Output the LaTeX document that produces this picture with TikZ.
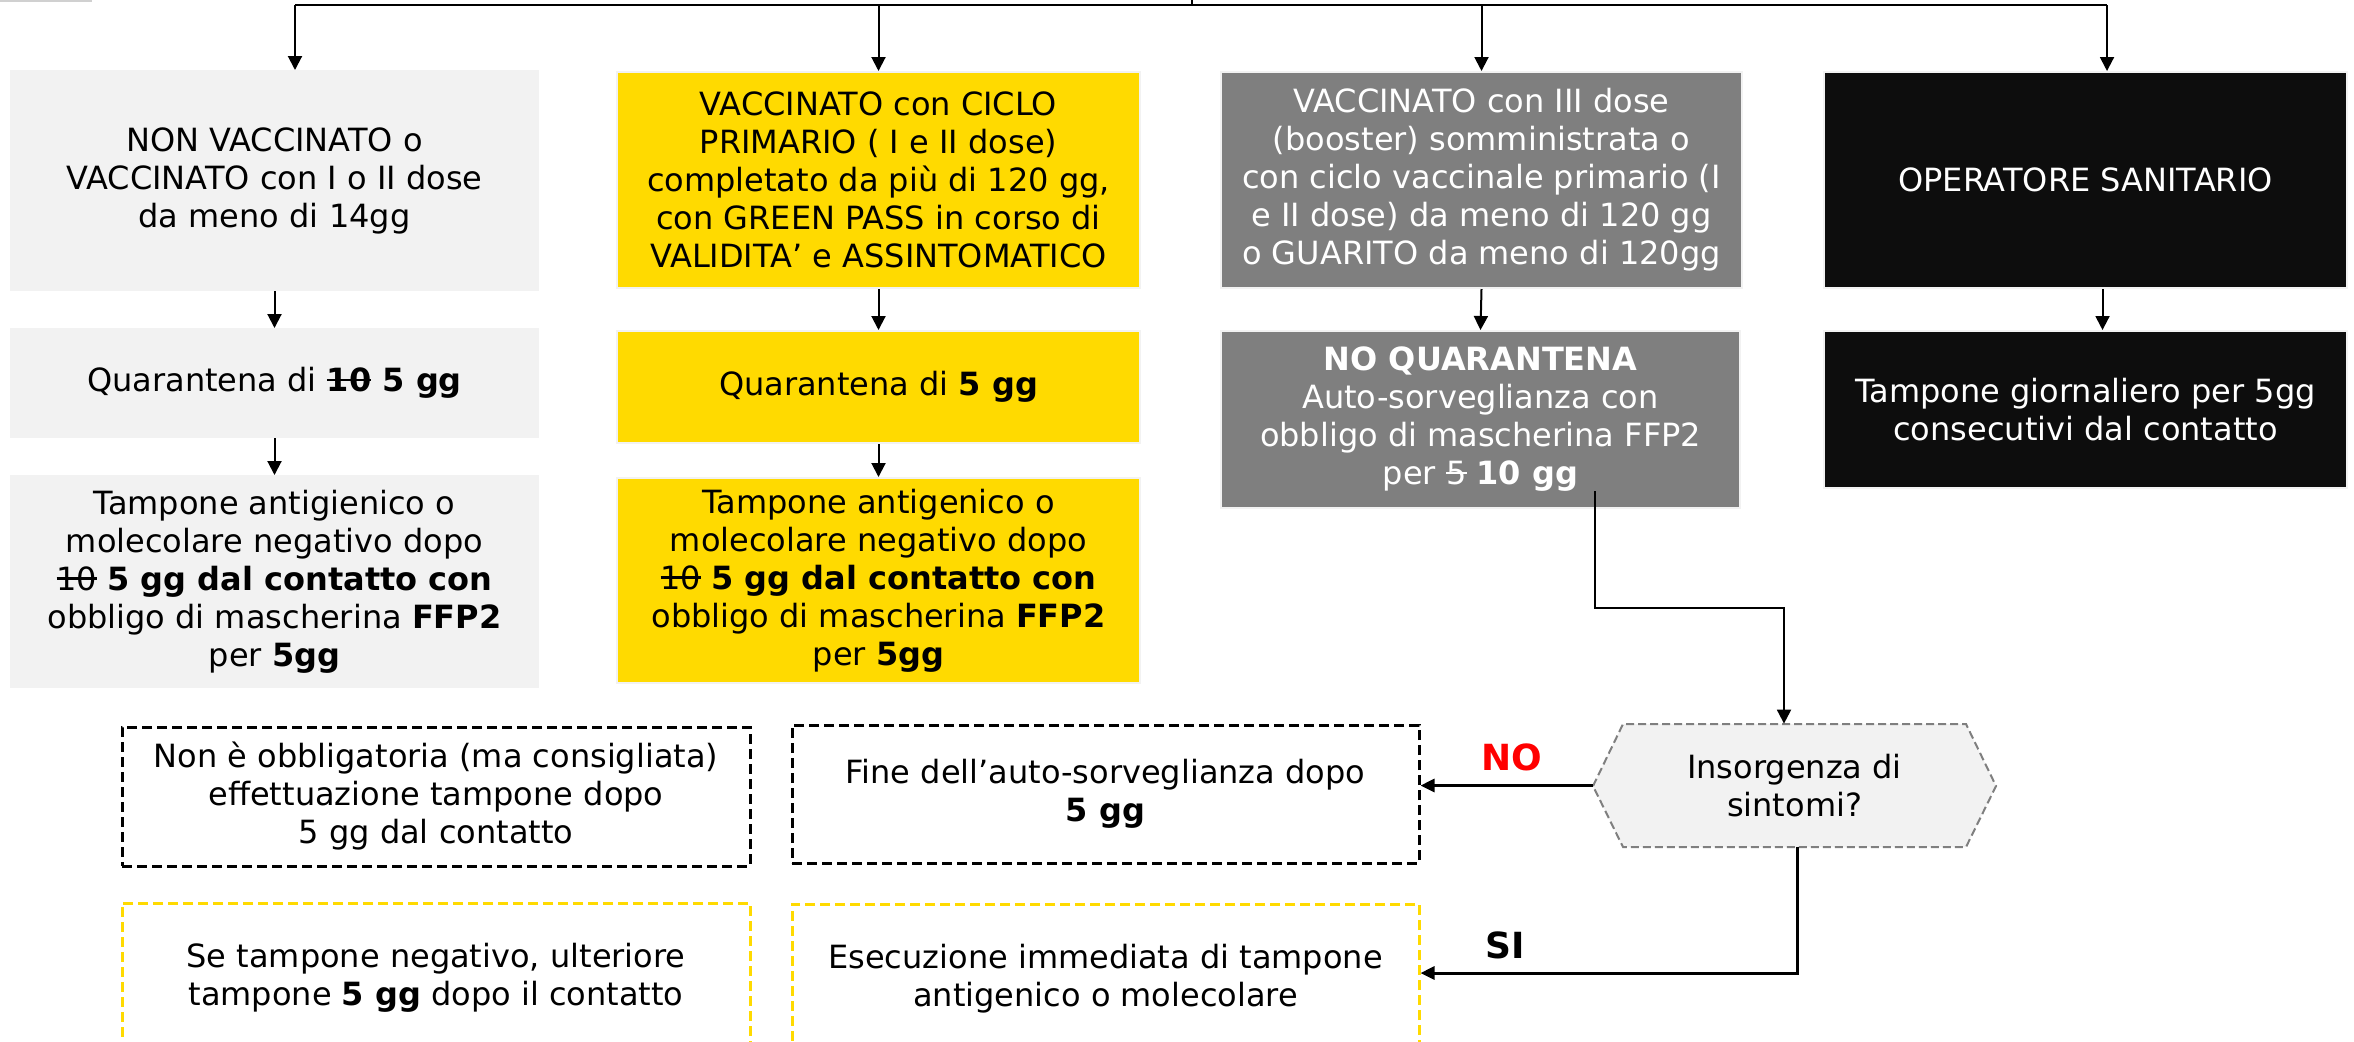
\documentclass[tikz,border=0pt]{standalone}
\usepackage{fontspec}
\setmainfont{DejaVu Sans}
\usetikzlibrary{arrows.meta}
\definecolor{lgrey}{HTML}{F2F2F2}
\definecolor{yel}{HTML}{FFDA00}
\definecolor{mgrey}{HTML}{7F7F7F}
\definecolor{blk}{HTML}{0D0D0D}
\definecolor{hexline}{HTML}{7F7F7F}
\definecolor{nored}{HTML}{FF0000}
\newcommand\strk[1]{\leavevmode{\setbox0\hbox{#1}\rlap{\rule[0.33em]{\wd0}{0.07em}}\box0}}
\begin{document}
\begin{tikzpicture}[x=0.5pt,y=-0.5pt,
  rect/.style n args={4}{at={({(#1+#3)/2},{(#2+#4)/2})}, minimum width={(#3-#1)*0.5pt}, minimum height={(#4-#2)*0.5pt}},
  txt/.style={font=\fontsize{16}{19}\selectfont, align=center},
  card/.style={txt, inner sep=0pt, line width=1pt, draw=lgrey},
  lightcard/.style={card, fill=lgrey},
  yelcard/.style={card, fill=yel},
  greycard/.style={card, fill=mgrey, text=white},
  blackcard/.style={card, fill=blk, text=white},
  blkdash/.style={txt, inner sep=0pt, draw=black, line width=1.5pt, dash pattern=on 5pt off 2.5pt},
  yeldash/.style={txt, inner sep=0pt, draw=yel, line width=1.5pt, dash pattern=on 5pt off 2.5pt},
  arr/.style={-{Triangle[width=7pt,length=7pt]}, line width=1pt},
  thickarr/.style={-{Triangle[width=6.5pt,length=7pt]}, line width=1.5pt},
  lbl/.style={font=\fontsize{18}{21}\selectfont\bfseries, inner sep=0pt}]
\useasboundingbox (0,0) rectangle (2354,1041);
\clip (0,0) rectangle (2354,1041);

% remnant of an element cut off at the top
\draw[lgrey!70!gray, line width=1.5pt] (0,0) -- (92,0);

% row 1
\node[lightcard, rect={11}{71}{538}{290}] (b1) {NON VACCINATO o\\VACCINATO con I o II dose\\da meno di 14gg};
\node[yelcard, rect={617}{72}{1140}{288}] (b2) {VACCINATO con CICLO\\PRIMARIO ( I e II dose)\\completato da più di 120 gg,\\con GREEN PASS in corso di\\VALIDITA’ e ASSINTOMATICO};
\node[greycard, rect={1221}{72}{1742}{288}] (b3) {VACCINATO con III dose\\(booster) somministrata o\\con ciclo vaccinale primario (I\\e II dose) da meno di 120 gg\\o GUARITO da meno di 120gg};
\node[blackcard, rect={1824}{72}{2347}{288}] (b4) {OPERATORE SANITARIO};

% row 2
\node[lightcard, rect={11}{329}{538}{437}] (b1b) {Quarantena di \textbf{\strk{10} 5 gg}};
\node[yelcard, rect={617}{331}{1140}{443}] (b2b) {Quarantena di \textbf{5 gg}};
\node[greycard, rect={1221}{331}{1740}{508}] (b3b) {\textbf{NO QUARANTENA}\\Auto-sorveglianza con\\obbligo di mascherina FFP2\\per \strk{5} \textbf{10 gg}};
\node[blackcard, rect={1824}{331}{2347}{488}] (b4b) {Tampone giornaliero per 5gg\\consecutivi dal contatto};

% row 3
\node[lightcard, rect={11}{476}{538}{687}] (b1c) {Tampone antigienico o\\molecolare negativo dopo\\\strk{10} \textbf{5 gg dal contatto con}\\obbligo di mascherina \textbf{FFP2}\\per \textbf{5gg}};
\node[yelcard, rect={617}{478}{1140}{683}] (b2c) {Tampone antigenico o\\molecolare negativo dopo\\\strk{10} \textbf{5 gg dal contatto con}\\obbligo di mascherina \textbf{FFP2}\\per \textbf{5gg}};

% dashed outcome boxes
\node[blkdash, rect={122}{727}{750}{866}] (d1) {Non è obbligatoria (ma consigliata)\\effettuazione tampone dopo\\5 gg dal contatto};
\node[blkdash, rect={792}{725}{1419}{863}] (d2) {Fine dell’auto-sorveglianza dopo\\\textbf{5 gg}};
\node[yeldash, rect={122}{903}{750}{1053}] (d3) {Se tampone negativo, ulteriore\\tampone \textbf{5 gg} dopo il contatto};
\node[yeldash, rect={792}{904}{1419}{1053}] (d4) {Esecuzione immediata di tampone\\antigenico o molecolare};

% decision hexagon
\draw[fill=lgrey, draw=hexline, line width=1pt, dash pattern=on 4pt off 2pt]
  (1593,786) -- (1623,724) -- (1966,724) -- (1996,786) -- (1966,847) -- (1623,847) -- cycle;
\node[txt, inner sep=0pt, rect={1593}{724}{1996}{847}] (hex) {Insorgenza di\\sintomi?};

% top bus
\coordinate (src) at (1192,0);
\coordinate (tl) at (295,5);
\coordinate (tr) at (2107,5);
\draw[line width=1pt] (src) -- (src |- tl);
\draw[line width=1pt] (tl) -- (tr);
\draw[arr] (tl) -- (tl |- b1.north);
\draw[arr] (b2.north |- tl) -- (b2.north);
\draw[arr] (b3.north |- tl) -- (b3.north);
\draw[arr] (tr) -- (tr |- b4.north);

% row 1 -> row 2
\draw[arr] (b1.south) -- (b1b.north);
\draw[arr] (b2.south) -- (b2b.north);
\draw[arr] (b3.south) -- (b3b.north);
\draw[arr] ([xshift=8.5pt]b4.south) -- ([xshift=8.5pt]b4b.north);

% row 2 -> row 3
\draw[arr] (b1b.south) -- (b1c.north);
\draw[arr] (b2b.south) -- (b2c.north);

% auto-sorveglianza -> decision
\coordinate (k1) at (1784,608);
\draw[arr] ([shift={(57.25pt,9pt)}]b3b.south) |- (k1) -- (k1 |- hex.north);

% decision -> outcomes
\draw[thickarr] (hex.west) -- (hex.west -| d2.east);
\coordinate (k2) at (1797,973);
\draw[thickarr] (k2 |- hex.south) -- (k2) -- (k2 -| d4.east);

\node[lbl, text=nored] (no) at (1512,757) {NO};
\node[lbl] (si) at (1505,945) {SI};
\end{tikzpicture}
\end{document}
